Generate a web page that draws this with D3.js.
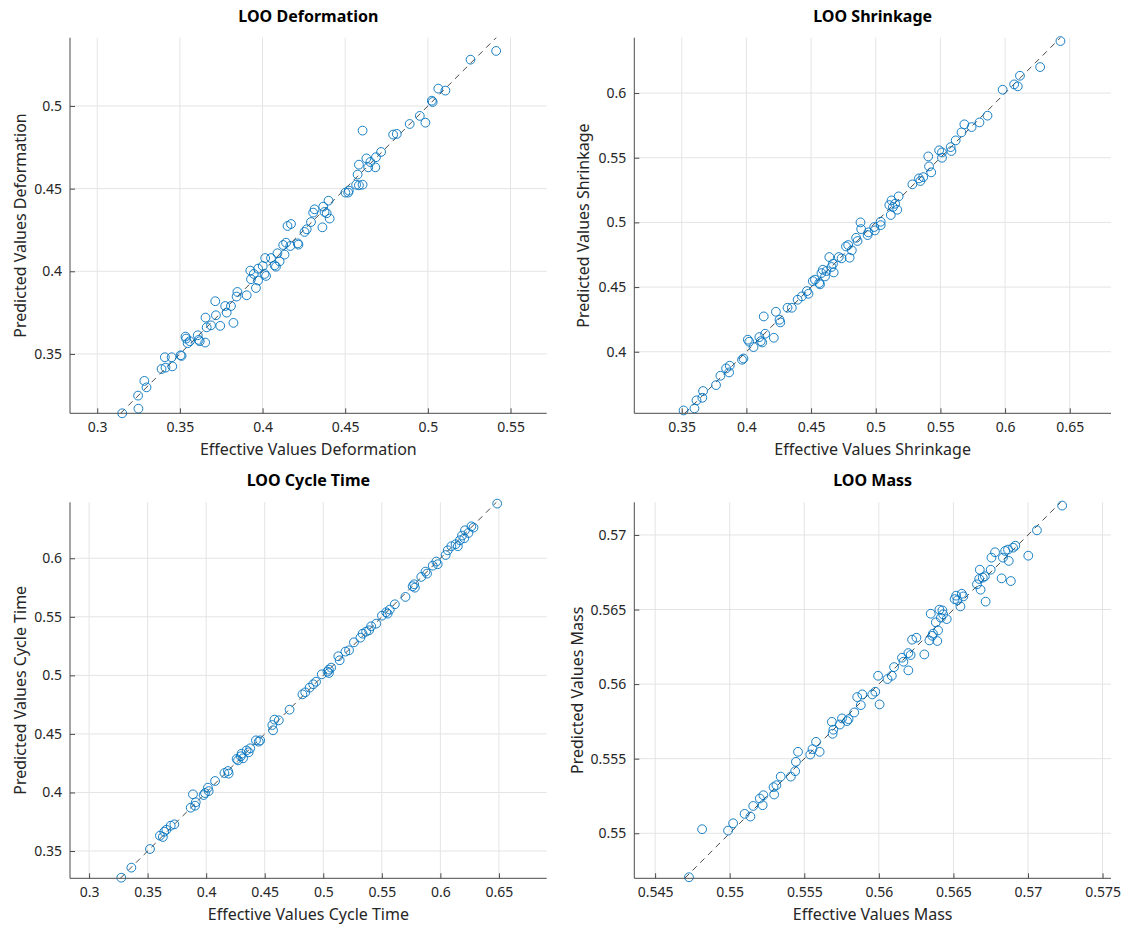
<!DOCTYPE html>
<html>
<head>
<meta charset="utf-8">
<script src="https://cdn.jsdelivr.net/npm/d3@7"></script>
<style>
  html, body { margin: 0; padding: 0; background: #ffffff; }
  svg { display: block; font-family: "Noto Sans", "Open Sans", sans-serif; }
</style>
</head>
<body>
<div id="chart"></div>
<script>
// ---------------- DATA ----------------
const titles = ["LOO Deformation", "LOO Shrinkage", "LOO Cycle Time", "LOO Mass"];
const xLabels = ["Effective Values Deformation", "Effective Values Shrinkage", "Effective Values Cycle Time", "Effective Values Mass"];
const yLabels = ["Predicted Values Deformation", "Predicted Values Shrinkage", "Predicted Values Cycle Time", "Predicted Values Mass"];

// [effective, predicted]
const deformation = [
  [0.3151,0.3141],[0.3249,0.3169],[0.3247,0.3248],[0.3285,0.3337],[0.3298,0.3298],[0.3389,0.3409],
  [0.3409,0.3480],[0.3413,0.3417],[0.3454,0.3425],[0.3450,0.3480],[0.3504,0.3492],[0.3510,0.3488],
  [0.3534,0.3605],[0.3538,0.3593],[0.3547,0.3565],[0.3560,0.3577],[0.3608,0.3613],[0.3614,0.3585],
  [0.3620,0.3577],[0.3653,0.3569],[0.3655,0.3720],[0.3662,0.3661],[0.3688,0.3673],[0.3714,0.3819],
  [0.3718,0.3734],[0.3744,0.3670],[0.3774,0.3790],[0.3783,0.3750],[0.3809,0.3790],[0.3824,0.3688],
  [0.3843,0.3847],[0.3848,0.3875],[0.3904,0.3855],[0.3926,0.4004],[0.3930,0.3952],[0.3947,0.3984],
  [0.3960,0.3899],[0.3973,0.3944],[0.3973,0.4016],[0.4001,0.4032],[0.4012,0.3984],[0.4021,0.3972],
  [0.4016,0.4080],[0.4051,0.4080],[0.4073,0.4036],[0.4081,0.4028],[0.4090,0.4109],[0.4103,0.4060],
  [0.4133,0.4101],[0.4125,0.4159],[0.4142,0.4173],[0.4168,0.4153],[0.4151,0.4274],[0.4172,0.4286],
  [0.4213,0.4169],[0.4217,0.4161],[0.4254,0.4238],[0.4267,0.4254],[0.4293,0.4298],[0.4306,0.4355],
  [0.4315,0.4375],[0.4362,0.4266],[0.4367,0.4391],[0.4375,0.4359],[0.4388,0.4351],[0.4399,0.4427],
  [0.4406,0.4319],[0.4501,0.4476],[0.4518,0.4476],[0.4522,0.4488],[0.4566,0.4524],[0.4583,0.4520],
  [0.4605,0.4524],[0.4575,0.4585],[0.4583,0.4645],[0.4605,0.4851],[0.4628,0.4683],[0.4639,0.4629],
  [0.4652,0.4661],[0.4682,0.4629],[0.4686,0.4690],[0.4717,0.4722],[0.4790,0.4827],[0.4812,0.4831],
  [0.4890,0.4891],[0.4951,0.4940],[0.4985,0.4899],[0.5024,0.5032],[0.5029,0.5024],[0.5063,0.5105],
  [0.5106,0.5093],[0.5258,0.5280],[0.5413,0.5333]
];
const shrinkage = [
  [0.3514,0.3546],[0.3598,0.3562],[0.3614,0.3624],[0.3659,0.3644],[0.3665,0.3696],[0.3765,0.3742],
  [0.3799,0.3814],[0.3843,0.3871],[0.3866,0.3840],[0.3871,0.3892],[0.3966,0.3938],[0.3977,0.3948],
  [0.4011,0.4093],[0.4022,0.4077],[0.4055,0.4036],[0.4100,0.4113],[0.4111,0.4082],[0.4122,0.4072],
  [0.4145,0.4139],[0.4134,0.4273],[0.4212,0.4108],[0.4228,0.4309],[0.4256,0.4247],[0.4262,0.4227],
  [0.4318,0.4340],[0.4351,0.4340],[0.4396,0.4402],[0.4429,0.4428],[0.4468,0.4469],[0.4480,0.4448],
  [0.4513,0.4546],[0.4530,0.4557],[0.4563,0.4531],[0.4569,0.4521],[0.4580,0.4608],[0.4591,0.4634],
  [0.4608,0.4582],[0.4619,0.4624],[0.4641,0.4732],[0.4658,0.4655],[0.4669,0.4680],[0.4675,0.4613],
  [0.4714,0.4732],[0.4736,0.4722],[0.4770,0.4814],[0.4787,0.4825],[0.4798,0.4727],[0.4815,0.4784],
  [0.4848,0.4881],[0.4859,0.4856],[0.4882,0.5000],[0.4887,0.4948],[0.4937,0.4902],[0.4943,0.4923],
  [0.4988,0.4964],[0.4993,0.4938],[0.5038,0.5005],[0.5038,0.4979],[0.5105,0.5134],[0.5116,0.5057],
  [0.5122,0.5170],[0.5133,0.5119],[0.5150,0.5144],[0.5166,0.5098],[0.5177,0.5201],[0.5283,0.5294],
  [0.5334,0.5340],[0.5345,0.5320],[0.5367,0.5350],[0.5406,0.5510],[0.5412,0.5433],[0.5429,0.5387],
  [0.5490,0.5557],[0.5512,0.5500],[0.5512,0.5541],[0.5579,0.5582],[0.5585,0.5552],[0.5618,0.5634],
  [0.5663,0.5696],[0.5685,0.5758],[0.5741,0.5737],[0.5802,0.5773],[0.5864,0.5825],[0.5981,0.6026],
  [0.6070,0.6067],[0.6098,0.6052],[0.6115,0.6134],[0.6271,0.6201],[0.6428,0.6402]
];
const cycleTime = [
  [0.3275,0.3272],[0.3361,0.3358],[0.3520,0.3517],[0.3605,0.3631],[0.3630,0.3620],[0.3642,0.3665],
  [0.3660,0.3682],[0.3697,0.3716],[0.3728,0.3728],[0.3868,0.3870],[0.3887,0.3984],[0.3905,0.3887],
  [0.3911,0.3916],[0.3978,0.3978],[0.3990,0.3995],[0.4021,0.4012],[0.4015,0.4041],[0.4076,0.4098],
  [0.4156,0.4166],[0.4186,0.4183],[0.4192,0.4161],[0.4260,0.4286],[0.4272,0.4274],[0.4296,0.4309],
  [0.4302,0.4331],[0.4315,0.4292],[0.4345,0.4359],[0.4363,0.4343],[0.4376,0.4377],[0.4425,0.4445],
  [0.4449,0.4434],[0.4461,0.4445],[0.4565,0.4576],[0.4571,0.4531],[0.4583,0.4622],[0.4620,0.4616],
  [0.4712,0.4707],[0.4822,0.4838],[0.4846,0.4855],[0.4883,0.4895],[0.4914,0.4924],[0.4938,0.4946],
  [0.4987,0.5009],[0.5036,0.5032],[0.5048,0.5049],[0.5067,0.5066],[0.5048,0.5020],[0.5128,0.5163],
  [0.5140,0.5129],[0.5189,0.5203],[0.5220,0.5214],[0.5262,0.5282],[0.5317,0.5322],[0.5336,0.5356],
  [0.5366,0.5374],[0.5391,0.5385],[0.5409,0.5419],[0.5452,0.5442],[0.5501,0.5510],[0.5537,0.5539],
  [0.5550,0.5527],[0.5568,0.5562],[0.5611,0.5607],[0.5702,0.5670],[0.5763,0.5761],[0.5776,0.5778],
  [0.5782,0.5749],[0.5837,0.5841],[0.5873,0.5886],[0.5886,0.5869],[0.5935,0.5937],[0.5965,0.5972],
  [0.5977,0.5949],[0.6045,0.6028],[0.6063,0.6068],[0.6094,0.6103],[0.6130,0.6120],[0.6149,0.6103],
  [0.6167,0.6154],[0.6185,0.6194],[0.6204,0.6171],[0.6210,0.6239],[0.6240,0.6216],[0.6265,0.6273],
  [0.6283,0.6262],[0.6485,0.6467]
];
const mass = [
  [0.54727,0.54705],[0.54815,0.55027],[0.54989,0.55018],[0.55023,0.55067],[0.55100,0.55130],[0.55139,0.55112],
  [0.55158,0.55183],[0.55202,0.55233],[0.55221,0.55188],[0.55226,0.55255],[0.55294,0.55309],[0.55298,0.55260],
  [0.55313,0.55322],[0.55342,0.55380],[0.55410,0.55380],[0.55439,0.55416],[0.55444,0.55479],[0.55458,0.55546],
  [0.55540,0.55528],[0.55555,0.55564],[0.55579,0.55613],[0.55603,0.55546],[0.55685,0.55747],[0.55690,0.55667],
  [0.55695,0.55694],[0.55739,0.55729],[0.55753,0.55770],[0.55787,0.55752],[0.55797,0.55765],[0.55835,0.55810],
  [0.55855,0.55913],[0.55879,0.55859],[0.55889,0.55931],[0.55956,0.55931],[0.55976,0.55949],[0.55995,0.56056],
  [0.56005,0.55864],[0.56058,0.56034],[0.56087,0.56056],[0.56102,0.56114],[0.56155,0.56177],[0.56165,0.56150],
  [0.56198,0.56092],[0.56198,0.56208],[0.56213,0.56195],[0.56223,0.56298],[0.56252,0.56311],[0.56305,0.56199],
  [0.56339,0.56293],[0.56348,0.56472],[0.56358,0.56324],[0.56363,0.56338],[0.56382,0.56414],[0.56392,0.56289],
  [0.56397,0.56360],[0.56406,0.56499],[0.56416,0.56445],[0.56426,0.56494],[0.56431,0.56468],[0.56455,0.56436],
  [0.56508,0.56570],[0.56518,0.56593],[0.56527,0.56562],[0.56547,0.56521],[0.56556,0.56606],[0.56566,0.56588],
  [0.56658,0.56669],[0.56673,0.56705],[0.56677,0.56767],[0.56682,0.56633],[0.56697,0.56714],[0.56711,0.56723],
  [0.56716,0.56553],[0.56750,0.56767],[0.56755,0.56848],[0.56779,0.56884],[0.56823,0.56709],[0.56832,0.56848],
  [0.56847,0.56893],[0.56866,0.56902],[0.56871,0.56826],[0.56885,0.56691],[0.56900,0.56915],[0.56915,0.56928],
  [0.57002,0.56861],[0.57060,0.57031],[0.57229,0.57197]
];

// Axis limits (predicted axis); x axis shares the same data-per-pixel scale
const yLimits = [[0.3141, 0.5413], [0.3524, 0.6428], [0.3267, 0.6478], [0.54698, 0.57219]];

// Tick values
const xTicks = [
  [0.3, 0.35, 0.4, 0.45, 0.5, 0.55],
  [0.35, 0.4, 0.45, 0.5, 0.55, 0.6, 0.65],
  [0.3, 0.35, 0.4, 0.45, 0.5, 0.55, 0.6, 0.65],
  [0.545, 0.55, 0.555, 0.56, 0.565, 0.57, 0.575]
];
const yTicks = [
  [0.35, 0.4, 0.45, 0.5],
  [0.4, 0.45, 0.5, 0.55, 0.6],
  [0.35, 0.4, 0.45, 0.5, 0.55, 0.6],
  [0.55, 0.555, 0.56, 0.565, 0.57]
];

const datasets = [deformation, shrinkage, cycleTime, mass];

// ---------------- LAYOUT ----------------
const W = 1134, H = 933;
const boxes = [
  { x0: 70,    x1: 546.7, y0: 37.7,  y1: 413.3, yl: 44 },
  { x0: 634.3, x1: 1111,  y0: 37.7,  y1: 413.3, yl: 45 },
  { x0: 70,    x1: 546.7, y0: 502.3, y1: 878.3, yl: 44 },
  { x0: 634.3, x1: 1111,  y0: 502.3, y1: 878.3, yl: 51 }
];
const textColor = "#262626";
const gridColor = "#e4e4e4";
const markerColor = "#0072BD";

const svg = d3.select("#chart").append("svg")
  .attr("width", W).attr("height", H)
  .attr("viewBox", `0 0 ${W} ${H}`);

const fmt = v => String(+v.toFixed(4));

datasets.forEach((data, i) => {
  const b = boxes[i];
  const w = b.x1 - b.x0, h = b.y1 - b.y0;
  const [ylo, yhi] = yLimits[i];
  const yRange = yhi - ylo;
  const xRange = yRange * w / h;
  const xc = (ylo + yhi) / 2;
  const x = d3.scaleLinear().domain([xc - xRange / 2, xc + xRange / 2]).range([b.x0, b.x1]);
  const y = d3.scaleLinear().domain([ylo, yhi]).range([b.y1, b.y0]);

  const g = svg.append("g");

  // grid
  g.append("g").selectAll("line").data(xTicks[i]).join("line")
    .attr("x1", d => x(d)).attr("x2", d => x(d))
    .attr("y1", b.y0).attr("y2", b.y1)
    .attr("stroke", gridColor).attr("stroke-width", 1);
  g.append("g").selectAll("line").data(yTicks[i]).join("line")
    .attr("x1", b.x0).attr("x2", b.x1)
    .attr("y1", d => y(d)).attr("y2", d => y(d))
    .attr("stroke", gridColor).attr("stroke-width", 1);

  // identity dashed line
  g.append("line")
    .attr("x1", x(ylo)).attr("y1", y(ylo))
    .attr("x2", x(yhi)).attr("y2", y(yhi))
    .attr("stroke", "#1a1a1a").attr("stroke-width", 0.8)
    .attr("stroke-dasharray", "6,5");

  // points
  g.append("g").selectAll("circle").data(data).join("circle")
    .attr("cx", d => x(d[0])).attr("cy", d => y(d[1]))
    .attr("r", 4.4)
    .attr("fill", "none")
    .attr("stroke", markerColor).attr("stroke-width", 0.9);

  // axes (left and bottom only, inward ticks)
  const xAxis = d3.axisBottom(x).tickValues(xTicks[i]).tickSize(-5).tickPadding(14).tickFormat(fmt);
  const yAxis = d3.axisLeft(y).tickValues(yTicks[i]).tickSize(-5).tickPadding(13).tickFormat(fmt);

  const gx = g.append("g").attr("transform", `translate(0,${b.y1})`).call(xAxis);
  const gy = g.append("g").attr("transform", `translate(${b.x0},0)`).call(yAxis);
  [gx, gy].forEach(ax => {
    ax.select(".domain").attr("stroke", "#4a4a4a").attr("stroke-width", 1);
    ax.selectAll(".tick line").attr("stroke", "#4a4a4a").attr("stroke-width", 1);
    ax.selectAll(".tick text").attr("fill", textColor)
      .style("font-family", '"Noto Sans", sans-serif').style("font-size", "14px");
  });
  gx.select(".domain").attr("d", `M${b.x0},0H${b.x1}`);
  gy.select(".domain").attr("d", `M0,${b.y0}V${b.y1}`);
  gx.selectAll(".tick text").attr("dy", "0.71em").attr("y", 9);
  gy.selectAll(".tick text").attr("x", -8);

  // title
  g.append("text")
    .attr("x", (b.x0 + b.x1) / 2).attr("y", b.y0 - 16)
    .attr("text-anchor", "middle")
    .attr("fill", "#000")
    .style("font-size", "16px").style("font-weight", "bold")
    .text(titles[i]);

  // x label
  g.append("text")
    .attr("x", (b.x0 + b.x1) / 2).attr("y", b.y1 + 42)
    .attr("text-anchor", "middle")
    .attr("fill", textColor)
    .style("font-size", "16px")
    .text(xLabels[i]);

  // y label
  g.append("text")
    .attr("transform", `translate(${b.x0 - b.yl},${(b.y0 + b.y1) / 2}) rotate(-90)`)
    .attr("text-anchor", "middle")
    .attr("fill", textColor)
    .style("font-size", "16px")
    .text(yLabels[i]);
});
</script>
</body>
</html>
